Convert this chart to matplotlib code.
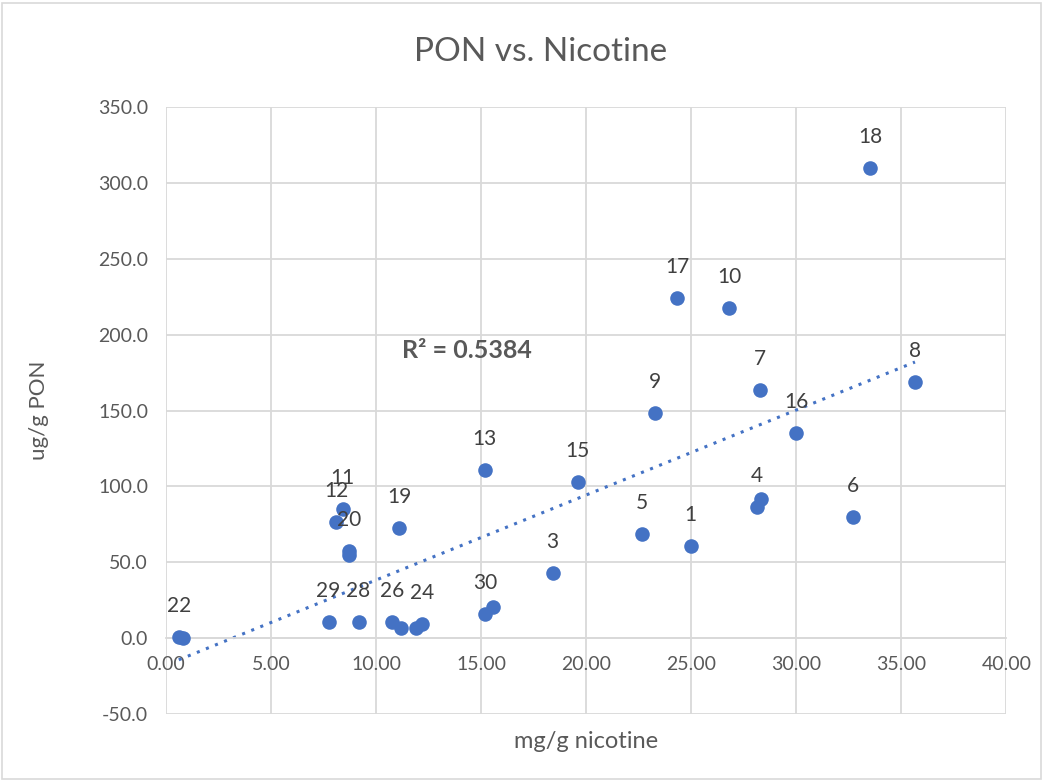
import numpy as np
import matplotlib
matplotlib.use("Agg")
import matplotlib.pyplot as plt
from matplotlib.patches import Rectangle
from matplotlib.ticker import FormatStrFormatter

plt.rcParams['font.family'] = ['Lato', 'DejaVu Sans']

# Data (mg/g nicotine vs ug/g PON)
nicotine = [0.60, 0.78, 7.73, 9.16, 8.10, 8.40, 8.70, 8.72, 11.10, 10.74, 11.20,
            11.90, 12.20, 15.17, 15.55, 15.17, 18.40, 19.60, 22.67, 24.97, 23.26,
            24.32, 26.81, 28.27, 28.34, 28.14, 30.00, 32.69, 33.52, 35.65]
pon = [0.5, 0.0, 10.5, 10.5, 76.5, 85.0, 57.5, 55.0, 72.5, 10.5, 6.5,
       6.5, 9.2, 16.0, 20.5, 110.8, 43.2, 102.8, 68.4, 60.5, 148.5,
       224.0, 217.4, 163.3, 92.0, 86.5, 135.1, 79.9, 310.0, 168.9]
labels = ["22", "", "29", "28", "12", "11", "20", "", "19", "26", "",
          "", "24", "30", "", "13", "3", "15", "5", "1", "9",
          "17", "10", "7", "", "4", "16", "6", "18", "8"]
r2_text = "R² = 0.5384"

blue = "#4472C4"
grey_text = "#595959"

fig = plt.figure(figsize=(10.45, 7.82), dpi=100)
ax = fig.add_axes([0.159, 0.087, 0.804, 0.776])

ax.scatter(nicotine, pon, s=110, color=blue, zorder=3, linewidths=0)

for x, y, lab in zip(nicotine, pon, labels):
    if lab:
        ax.annotate(lab, (x, y), xytext=(0, 31), textcoords='offset pixels',
                    ha='center', va='center', fontsize=15, color="#404040", zorder=4)

# linear trendline
slope, intercept = np.polyfit(nicotine, pon, 1)
xs = np.array([min(nicotine), max(nicotine)])
ax.plot(xs, slope * xs + intercept, color=blue, linestyle=(0, (1, 2.2)),
        linewidth=2.2, zorder=2)

ax.text(14.3, 189.6, r2_text, ha='center', va='center', fontsize=18,
        fontweight='bold', color=grey_text)

ax.set_xlim(0, 40)
ax.set_ylim(-50, 350)
ax.set_xticks(np.arange(0, 41, 5))
ax.set_yticks(np.arange(-50, 351, 50))
ax.xaxis.set_major_formatter(FormatStrFormatter('%.2f'))
ax.yaxis.set_major_formatter(FormatStrFormatter('%.1f'))
ax.grid(True, color="#D9D9D9", linewidth=1.3, zorder=0)
ax.set_axisbelow(True)
for side in ['top', 'right', 'left']:
    ax.spines[side].set_visible(False)
ax.spines['bottom'].set_position(('data', 0))
ax.spines['bottom'].set_color("#D9D9D9")
ax.spines['bottom'].set_linewidth(1.3)
ax.tick_params(length=0, labelsize=14, labelcolor=grey_text)
ax.tick_params(axis='x', pad=13)
ax.tick_params(axis='y', pad=13)

fig.text(0.517, 0.933, "PON vs. Nicotine", ha='center', va='center',
         fontsize=24, color=grey_text)
fig.text(0.561, 0.052, "mg/g nicotine", ha='center', va='center',
         fontsize=17, color=grey_text)
fig.text(0.037, 0.475, "ug/g PON", ha='center', va='center', rotation=90,
         fontsize=16, color=grey_text)

fig.add_artist(Rectangle((0.002, 0.004), 0.994, 0.992, transform=fig.transFigure,
                         fill=False, edgecolor="#D9D9D9", linewidth=1.2))

fig.savefig("out.png", dpi=100)
